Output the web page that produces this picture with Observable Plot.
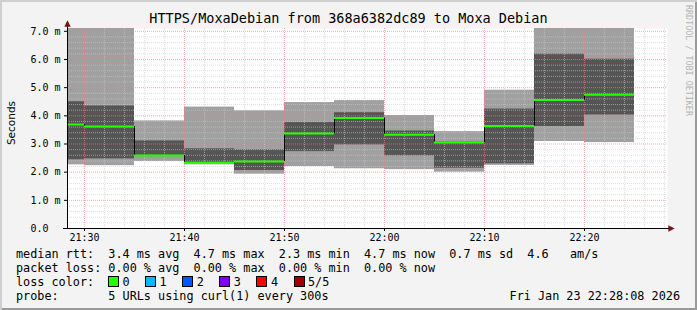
<!DOCTYPE html>
<html>
<head>
<meta charset="utf-8">
<script src="https://cdn.jsdelivr.net/npm/d3@7"></script>
<script src="https://cdn.jsdelivr.net/npm/@observablehq/plot@0.6"></script>
<style>
  body { margin: 0; background: #f3f3f3; }
  #frame {
    position: relative; width: 697px; height: 310px; overflow: hidden;
    background: #f3f3f3;
    box-shadow: inset 2px 2px 0 #cfcfcf, inset -2px -2px 0 #9a9a9a;
    font-family: "DejaVu Sans Mono", monospace; color: #000;
  }
  #chart { position: absolute; left: 0; top: 0; }
  .abs { position: absolute; white-space: pre; }
  #title { left: 0; width: 697px; top: 9px; text-align: center; font-size: 13.5px; line-height: 18px; }
  .leg { left: 16px; font-size: 11.8px; line-height: 14px; }
  #ylab { font-family: "DejaVu Sans", sans-serif; font-size: 10.5px; left: -14px; top: 117px; width: 50px; text-align: center; transform: rotate(-90deg); line-height: 12px; }
  #credit { left: 684px; top: 5px; writing-mode: vertical-rl; font-size: 8.4px; color: #b4b4b4; line-height: 10px; }
  .box { position: absolute; width: 9px; height: 9px; border: 1px solid #000; }
</style>
</head>
<body>
<div id="frame"></div>
<script>
// ---- data ----
const slotStart = ["21:25","21:30","21:35","21:40","21:45","21:50","21:55","22:00","22:05","22:10","22:15","22:20"];
const smokeLow  = [2.26, 2.23, 2.38, 2.26, 1.93, 2.20, 2.12, 2.09, 2.00, 2.24, 3.09, 3.05];
const coreLow   = [2.44, 2.47, 2.55, 2.30, 2.06, 2.73, 2.97, 2.58, 2.14, 2.30, 3.62, 4.03];
const medianRtt = [3.69, 3.62, 2.59, 2.33, 2.38, 3.37, 3.92, 3.33, 3.05, 3.64, 4.56, 4.75];
const coreHigh  = [4.50, 4.35, 3.11, 2.83, 2.79, 3.76, 4.11, 3.46, 3.07, 4.24, 6.19, 6.01];
const smokeHigh = [7.10, 7.10, 3.82, 4.31, 4.18, 4.47, 4.54, 4.01, 3.44, 4.91, 7.10, 7.10];

const yTicks = [0, 1, 2, 3, 4, 5, 6, 7];
const lossLabels = ["0", "1", "2", "3", "4", "5/5"];
const lossColors = ["#26ff00", "#00b8ff", "#0059ff", "#7e00ff", "#ff0000", "#a00000"];

const titleText = "HTTPS/MoxaDebian from 368a6382dc89 to Moxa Debian";
const legendLines = [
  "median rtt:  3.4 ms avg  4.7 ms max  2.3 ms min  4.7 ms now  0.7 ms sd  4.6   am/s",
  "packet loss: 0.00 % avg  0.00 % max  0.00 % min  0.00 % now",
  "loss color:",
  "probe:       5 URLs using curl(1) every 300s"
];
const stamp = "Fri Jan 23 22:28:08 2026";

// ---- build ----
const toDate = s => { const [h, m] = s.split(":").map(Number); return new Date(Date.UTC(2026, 0, 23, h, m)); };
const rows = slotStart.map((s, i) => ({
  start: toDate(s),
  end: new Date(toDate(s).getTime() + 5 * 60000),
  smokeLow: smokeLow[i], coreLow: coreLow[i], median: medianRtt[i],
  coreHigh: coreHigh[i], smokeHigh: smokeHigh[i]
}));
const steps = d3.pairs(rows).map(([a, b]) => ({t: b.start, from: a.median, to: b.median}));

const xDomain = [new Date(Date.UTC(2026, 0, 23, 21, 28, 18)), new Date(Date.UTC(2026, 0, 23, 22, 28, 18))];
const majorX = d3.utcMinute.every(10).range(xDomain[0], xDomain[1]);
const minorX = d3.utcMinute.every(2).range(xDomain[0], xDomain[1]).filter(d => d.getUTCMinutes() % 10 !== 0);
const majorY = yTicks.filter(v => v > 0);
const minorY = d3.range(1, 36).filter(i => i % 5 !== 0).map(i => i / 5);

const arrowRight = { draw(ctx, size) { const s = Math.sqrt(size) * 0.6; ctx.moveTo(s, 0); ctx.lineTo(-s, -s); ctx.lineTo(-s, s); ctx.closePath(); } };
const arrowUp = { draw(ctx, size) { const s = Math.sqrt(size) * 0.6; ctx.moveTo(0, -s); ctx.lineTo(-s, s); ctx.lineTo(s, s); ctx.closePath(); } };

const W = 697, H = 246;
const chart = Plot.plot({
  width: W, height: H,
  marginLeft: 67, marginRight: 30, marginTop: 28, marginBottom: 18,
  style: { background: "transparent", fontFamily: "DejaVu Sans Mono, monospace", fontSize: "10px", overflow: "visible", color: "#000" },
  x: { type: "utc", domain: xDomain },
  y: { domain: [0, 7.1] },
  marks: [
    Plot.frame({ fill: "white", stroke: "none" }),
    Plot.rect(rows, { x1: "start", x2: "end", y1: "smokeLow", y2: "smokeHigh", fill: "#a0a0a0", clip: true }),
    Plot.rect(rows, { x1: "start", x2: "end", y1: "coreLow", y2: "coreHigh", fill: "#555555", clip: true }),
    Plot.ruleX(minorX, { stroke: "#cacaca", strokeOpacity: 0.6, strokeDasharray: "1,1" }),
    Plot.ruleY(minorY, { stroke: "#cacaca", strokeOpacity: 0.6, strokeDasharray: "1,1" }),
    Plot.ruleX(majorX, { stroke: "#f08080", strokeOpacity: 0.65, strokeDasharray: "1,1" }),
    Plot.ruleY(majorY, { stroke: "#f08080", strokeOpacity: 0.65, strokeDasharray: "1,1" }),
    Plot.ruleX(steps, { x: "t", y1: "from", y2: "to", stroke: "#000", strokeWidth: 1, clip: true }),
    Plot.ruleY(rows, { x1: "start", x2: "end", y: "median", stroke: "#26ff00", strokeWidth: 2, clip: true }),
    Plot.axisX({ ticks: majorX, tickFormat: d3.utcFormat("%H:%M"), tickSize: 3, tickPadding: 2.5, label: null, fontSize: 10 }),
    Plot.axisY({ ticks: yTicks, tickFormat: d => d === 0 ? "0.0\u00a0\u00a0" : d.toFixed(1) + "\u00a0m", tickSize: 3, tickPadding: 4, label: null, fontSize: 10 }),
    Plot.ruleY([0], { stroke: "#000", insetLeft: -4, insetRight: -3 }),
    Plot.ruleX([xDomain[0]], { stroke: "#000", insetTop: -4 }),
    Plot.dot([{ t: xDomain[1], v: 0 }], { x: "t", y: "v", symbol: arrowRight, r: 3, fill: "#7a1212", stroke: "none", dx: 4 }),
    Plot.dot([{ t: xDomain[0], v: 7.1 }], { x: "t", y: "v", symbol: arrowUp, r: 3, fill: "#7a1212", stroke: "none", dy: -5 })
  ]
});
chart.id = "chart";
const frame = document.getElementById("frame");
frame.appendChild(chart);

function addText(cls, id, text, css) {
  const el = document.createElement("div");
  el.className = "abs " + cls;
  if (id) el.id = id;
  el.textContent = text;
  Object.assign(el.style, css || {});
  frame.appendChild(el);
  return el;
}
addText("", "title", titleText);
addText("", "ylab", "Seconds");
addText("", "credit", "RRDTOOL / TOBI OETIKER");
const lineTops = [247, 261, 275, 289];
legendLines.forEach((t, i) => addText("leg", null, t, { top: lineTops[i] + "px" }));
addText("leg", null, stamp, { top: "289px", left: "auto", right: "17px" });
lossColors.forEach((c, i) => {
  const b = document.createElement("div");
  b.className = "box";
  Object.assign(b.style, { left: (108 + 37.1 * i) + "px", top: "276px", background: c });
  frame.appendChild(b);
  addText("leg", null, lossLabels[i], { top: "275px", left: (122.5 + 37.1 * i) + "px" });
});
</script>
</body>
</html>
